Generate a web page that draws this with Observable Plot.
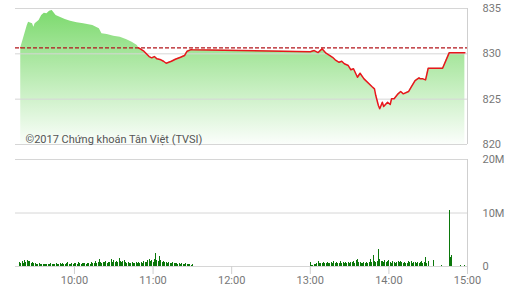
<!DOCTYPE html>
<html><head><meta charset="utf-8">
<script src="https://cdn.jsdelivr.net/npm/d3@7"></script>
<script src="https://cdn.jsdelivr.net/npm/@observablehq/plot@0.6"></script>
<style>
body{margin:0;background:#fff;}
#wrap{position:relative;width:527px;height:299px;overflow:hidden;}
#topChart,#botChart{position:absolute;left:0;}
#topChart{top:0}
#botChart{top:150px}
</style></head><body><div id="wrap"><div id="topChart"></div><div id="botChart"></div></div>
<script>
// ---- data ----
const referencePrice = 830.66;
const priceTimes = ["9:19","9:20","9:24","9:25","9:28","9:29","9:30","9:33","9:35","9:37","9:39","9:41","9:43","9:46","9:49","9:53","9:57","10:02","10:07","10:14","10:19","10:21","10:25","10:30","10:35","10:40","10:44","10:48","10:49","10:53","10:57","10:59","11:01","11:03","11:06","11:08","11:10","11:14","11:17","11:21","11:24","11:26","11:29","11:30","13:00","13:03","13:06","13:09","13:12","13:15","13:17","13:19","13:22","13:24","13:26","13:29","13:31","13:33","13:36","13:38","13:41","13:47","13:49","13:50","13:52","13:53","13:55","13:56","13:59","14:01","14:02","14:04","14:07","14:09","14:11","14:15","14:17","14:20","14:23","14:24","14:26","14:28","14:30","14:41","14:46","14:58"];
const priceValues = [830.66,831.14,833.12,833.49,833.31,832.93,833.31,833.67,834.22,834.48,834.41,834.70,834.78,834.22,834.04,833.78,833.60,833.42,833.31,833.12,832.76,832.21,832.13,831.94,831.83,831.54,831.28,830.92,830.66,830.29,829.70,829.56,829.70,829.45,829.34,829.18,828.96,829.18,829.40,829.62,829.81,830.29,830.47,830.45,830.24,830.36,830.14,830.55,830.07,829.81,829.62,829.34,829.07,829.18,828.90,828.71,828.24,828.35,827.42,827.86,827.24,826.40,826.14,825.40,824.30,823.95,824.66,824.19,824.66,824.41,825.04,825.04,825.59,825.84,825.59,825.84,826.32,827.05,827.35,827.24,827.24,827.13,828.41,828.41,830.11,830.11];

const morningStart = "9:18"; // one value per minute (millions)
const morningVolume = [0.7,0.5,0.9,0.6,1.1,0.7,1.2,0.9,1.0,0.6,
  0.8,0.5,0.6,0.4,0.4,0.5,0.4,0.3,0.4,0.4,
  0.3,0.4,0.4,0.3,0.5,0.4,0.3,0.4,0.5,0.3,
  0.4,0.5,0.3,0.6,0.4,0.3,0.5,0.7,0.4,0.3,
  0.5,0.4,0.6,0.5,0.3,0.8,0.5,0.4,0.6,0.5,
  0.5,0.4,0.6,0.5,0.4,0.7,0.5,0.6,0.9,0.6,
  0.8,1.4,0.7,0.6,0.8,0.7,0.9,0.6,0.8,0.7,
  1.25,0.8,1.1,0.7,0.9,0.8,1.5,0.9,0.8,1.0,
  1.1,0.7,0.6,0.7,0.5,0.6,0.7,0.5,0.6,0.7,
  0.6,0.7,0.6,0.8,0.6,0.9,0.7,0.8,1.1,1.4,
  0.9,1.1,0.8,1.3,2.4,1.2,0.9,1.9,1.2,0.8,
  0.9,0.7,0.8,0.6,0.7,0.5,0.6,0.7,0.5,0.6,
  0.5,0.4,0.6,0.4,0.5,0.3,0.4,0.5,0.3,0.4,
  0.3,0.2,0.3];
const afternoonStart = "13:00";
const afternoonVolume = [0.75,0.2,0.25,0.4,0.3,0.5,0.9,0.6,0.5,0.6,
  0.7,0.5,0.6,0.75,0.5,0.6,0.7,0.5,0.9,0.6,
  0.7,0.5,0.6,0.9,0.6,0.7,0.5,0.8,0.6,0.7,
  0.6,0.8,0.7,0.9,0.6,1.1,1.25,0.8,0.7,0.6,
  0.6,0.7,0.5,0.8,0.6,0.7,1.4,0.8,2.0,0.9,
  0.7,1.0,3.1,1.25,0.9,1.0,0.8,1.1,0.7,0.9,
  1.1,0.8,0.6,0.9,0.7,0.6,0.8,0.9,0.7,1.0,
  0.7,0.6,0.8,0.5,0.6,0.9,0.7,1.0,0.6,0.8,
  0.7,0.6,0.8,0.5,0.7,1.0,0.6,0.7,1.75,0.6,
  1.0];
const lateTimes = ["14:34","14:40","14:46","14:47","14:48","14:55","14:58"];
const lateVolume = [1.1,0.1,10.5,1.6,2.1,0.1,0.1];

const priceTicks = [820,825,830,835];
const volumeTicks = [0,10,20];
const timeTicks = ["10:00","11:00","12:00","13:00","14:00","15:00"];
const caption = "©2017 Chứng khoán Tân Việt (TVSI)";

// ---- build ----
const T = s => { const [h,m] = s.split(":").map(Number); return new Date(2017,0,3,h,m); };
const addMin = (d,k) => new Date(d.getTime() + k*60000);
const price = priceTimes.map((t,i) => ({t:T(t), p:priceValues[i]}));
const vol = [
  ...morningVolume.map((v,i) => ({t:addMin(T(morningStart),i), v})),
  ...afternoonVolume.map((v,i) => ({t:addMin(T(afternoonStart),i), v})),
  ...lateTimes.map((t,i) => ({t:T(t), v:lateVolume[i]}))
];
const xDomain = [T("9:15"), T("15:00")];
const font = "Roboto, 'Liberation Sans', sans-serif";

const defs = () => {
  const g = d3.create("svg:defs");
  const lg = g.append("linearGradient").attr("id","gfill").attr("gradientUnits","userSpaceOnUse")
    .attr("x1",0).attr("x2",0).attr("y1",8).attr("y2",144);
  lg.append("stop").attr("offset","0").attr("stop-color","#7ad96b");
  lg.append("stop").attr("offset","1").attr("stop-color","#fbfefb");
  return g.node();
};

const priceChart = Plot.plot({
  width:527, height:150, marginLeft:15, marginRight:60, marginTop:8, marginBottom:6,
  style:{fontSize:"11px", fontFamily:font, background:"#fff"},
  x:{type:"time", domain:xDomain, axis:null},
  y:{domain:[820,835], axis:null},
  marks:[
    defs,
    Plot.areaY(price, {x:"t", y1:820, y2:"p", fill:"url(#gfill)"}),
    Plot.gridY(priceTicks, {stroke:"#d6d6d6", strokeOpacity:1}),
    Plot.ruleX([xDomain[1]], {y1:820, y2:835, stroke:"#cfcfcf"}),
    Plot.ruleY([referencePrice], {stroke:"#b3141b", strokeDasharray:"4,2", strokeWidth:1.1}),
    Plot.lineY(price, {x:"t", y:d => d.p <= referencePrice + 1e-9 ? d.p : NaN, stroke:"#e8161c", strokeWidth:1.5}),
    Plot.axisY(priceTicks, {anchor:"right", tickSize:0, tickPadding:15, label:null, fill:"#777", fontSize:11}),
    Plot.text([caption], {frameAnchor:"bottom-left", dx:10, dy:-2, fill:"#555", fontSize:11, textAnchor:"start"})
  ]
});
document.getElementById("topChart").appendChild(priceChart);

const volChart = Plot.plot({
  width:527, height:149, marginLeft:15, marginRight:60, marginTop:9, marginBottom:33,
  style:{fontSize:"11px", fontFamily:font, background:"#fff"},
  x:{type:"time", domain:xDomain, axis:null},
  y:{domain:[0,20], axis:null},
  marks:[
    Plot.gridY(volumeTicks, {stroke:"#d6d6d6", strokeOpacity:1}),
    Plot.ruleX([xDomain[1]], {y1:0, y2:20, stroke:"#cfcfcf"}),
    Plot.ruleX(vol, {x:"t", y1:0, y2:"v", stroke:"#0b780b", strokeWidth:1, shapeRendering:"crispEdges"}),
    Plot.axisX(timeTicks.map(T), {anchor:"bottom", tickSize:8, tickPadding:2, tickFormat:d3.timeFormat("%H:%M"), label:null, stroke:"#cfcfcf", fill:"#777", fontSize:11}),
    Plot.axisY(volumeTicks, {anchor:"right", tickSize:0, tickPadding:15, label:null, tickFormat:d => d ? d + "M" : "0", fill:"#777", fontSize:11})
  ]
});
document.getElementById("botChart").appendChild(volChart);
</script>
</body></html>
